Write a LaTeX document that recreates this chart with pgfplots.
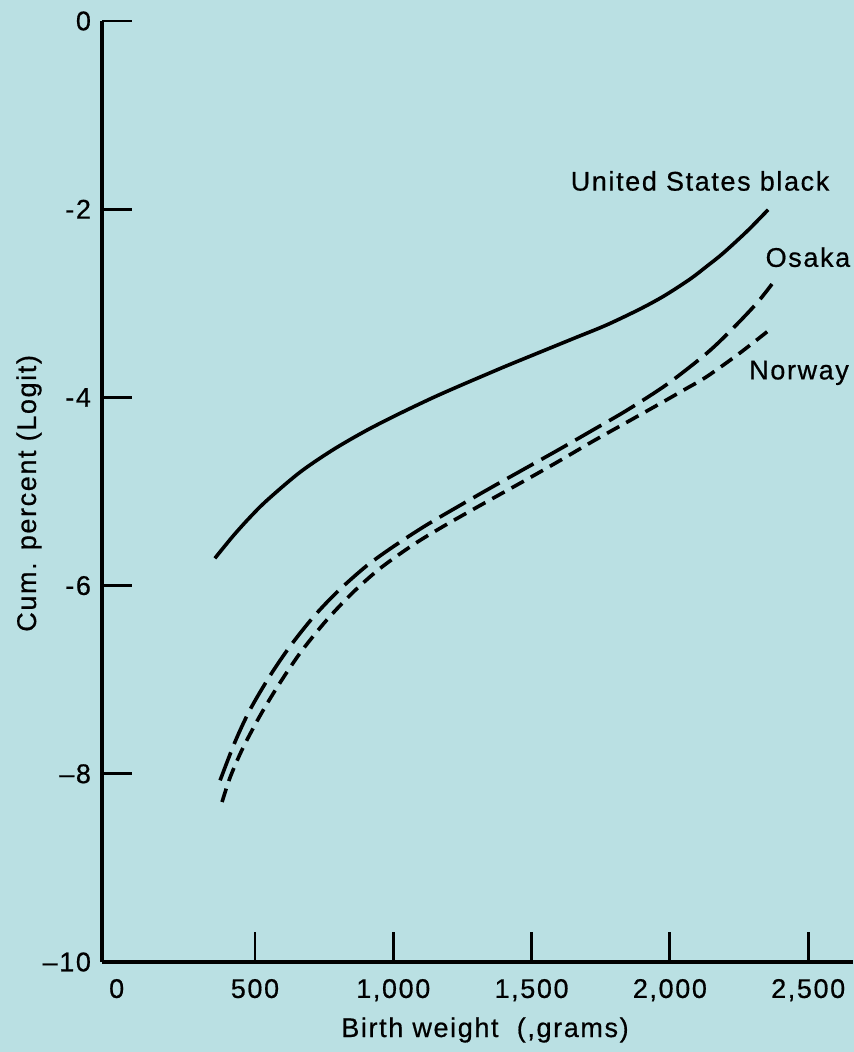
\documentclass[border=0pt]{standalone}
\usepackage{fontspec}
\setmainfont{Liberation Sans}[LetterSpace=6.0, FakeBold=0.6]
\usepackage{pgfplots}
\pgfplotsset{compat=1.18}
\definecolor{bg}{RGB}{186,224,227}

% Cumulative percent (logit) by birth weight
\pgfplotstableread{
g     y
355  -5.710
420  -5.476
480  -5.280
543  -5.095
662  -4.797
782  -4.557
905  -4.348
1024 -4.170
1144 -4.002
1241 -3.876
1330 -3.764
1411 -3.663
1530 -3.520
1650 -3.376
1770 -3.232
1892 -3.061
1980 -2.920
2073 -2.743
2135 -2.603
2192 -2.469
2279 -2.234
2355 -2.006
}\usblack
\pgfplotstableread{
g     y
374  -8.070
428  -7.660
482  -7.320
555  -6.955
627  -6.645
710  -6.338
797  -6.068
905  -5.787
1013 -5.560
1122 -5.353
1240 -5.150
1360 -4.948
1480 -4.750
1602 -4.549
1725 -4.341
1845 -4.136
1990 -3.860
2134 -3.529
2228 -3.266
2315 -2.996
2369 -2.796
}\osaka
\pgfplotstableread{
g     y
381  -8.300
410  -8.039
454  -7.740
511  -7.421
562  -7.166
616  -6.918
674  -6.674
760  -6.364
854  -6.073
952  -5.818
1071 -5.568
1180 -5.372
1330 -5.122
1484 -4.870
1605 -4.667
1723 -4.464
1845 -4.263
1965 -4.065
2050 -3.922
2134 -3.778
2254 -3.526
2374 -3.250
}\norway

\begin{document}
\begin{tikzpicture}[x=1pt,y=1pt]
\fill[bg] (0,0) rectangle (427,526);
\begin{axis}[
  at={(51pt,45pt)}, anchor=south west,
  scale only axis, width=375.5pt, height=470.5pt,
  xmin=-53, xmax=2662, ymin=-10, ymax=0,
  axis lines=left,
  axis line style={-, line width=2.2pt, black},
  clip=false,
  tick align=inside,
  major tick length=15pt,
  tick style={line width=1.4pt, black},
  xtick={500,1000,1500,2000,2500},
  xticklabels={500,{1,000},{1,500},{2,000},{2,500}},
  extra x ticks={0},
  extra x tick labels={0},
  extra x tick style={major tick length=0pt},
  ytick={-10,-8,-6,-4,-2,0},
  yticklabels={–10,–8,-6,-4,-2,0},
  tick label style={font=\fontsize{13.5}{16}\selectfont},
  xticklabel style={yshift=-5pt},
  yticklabel style={xshift=-2pt},
  xlabel={Birth weight\ \ (,grams)},
  ylabel={Cum. percent (Logit)},
  label style={font=\fontsize{13.5}{16}\selectfont},
  xlabel style={at={(axis description cs:0.51,-0.0723)}, anchor=center},
  ylabel style={at={(axis description cs:-0.0972,0.498)}, anchor=center},
]
\addplot[black, line width=1.8pt, smooth] table[x=g, y=y] {\usblack};
\addplot[black, line width=1.8pt, smooth, dash pattern=on 15pt off 4.5pt] table[x=g, y=y] {\osaka};
\addplot[black, line width=1.8pt, smooth, dash pattern=on 7pt off 4pt] table[x=g, y=y] {\norway};
\node[font=\fontsize{13.5}{16}\selectfont] at (axis cs:2109,-1.70) {United States black};
\node[font=\fontsize{13.5}{16}\selectfont] at (axis cs:2499,-2.51) {Osaka};
\node[font=\fontsize{13.5}{16}\selectfont] at (axis cs:2467,-3.74) {Norway};
\end{axis}
\pgfresetboundingbox
\useasboundingbox (0,0) rectangle (427,526);
\end{tikzpicture}
\end{document}
